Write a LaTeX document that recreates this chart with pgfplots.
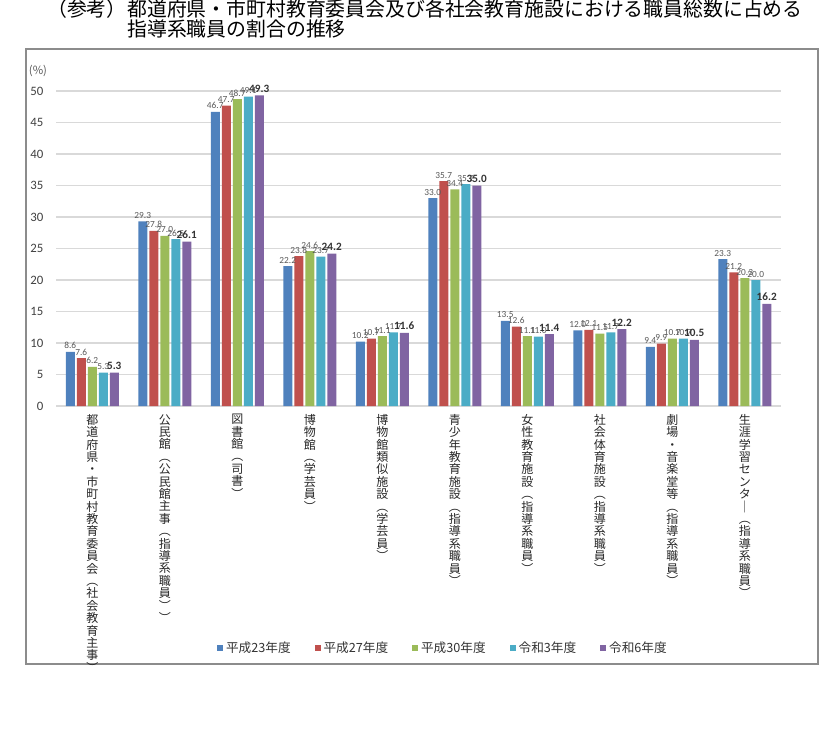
\documentclass[border=0pt]{standalone}
\usepackage{pgfplots}
\pgfplotsset{compat=1.18}
\usepackage{fontspec}
\setmainfont{Noto Sans CJK JP}
\newfontfamily\numfont{Carlito}

\definecolor{cA}{HTML}{4F81BD}
\definecolor{cB}{HTML}{C0504D}
\definecolor{cC}{HTML}{9BBB59}
\definecolor{cD}{HTML}{4BACC6}
\definecolor{cE}{HTML}{8064A2}
\definecolor{labgray}{HTML}{595959}
\definecolor{gridgray}{HTML}{D9D9D9}
\definecolor{framegray}{HTML}{8C8C8C}

\pgfplotsset{
  vals/.style={
    nodes near coords={\pgfmathprintnumber[fixed,fixed zerofill,precision=1]{\pgfplotspointmeta}},
    every node near coord/.append style={font=\numfont\fontsize{7}{8}\selectfont, text=labgray, inner sep=1pt, yshift=1pt}
  },
  valsbold/.style={
    nodes near coords={\pgfmathprintnumber[fixed,fixed zerofill,precision=1]{\pgfplotspointmeta}},
    every node near coord/.append style={font=\numfont\bfseries\fontsize{8.4}{9}\selectfont, text=black!80, inner sep=1pt, yshift=1pt}
  }
}

\begin{document}
\begin{tikzpicture}
\begin{scope}[x=0.75pt,y=-0.75pt]
  \useasboundingbox (0,0) rectangle (826,735);
  \draw[framegray, line width=1pt] (26,49) rectangle (818,664);
  \node[anchor=base east, inner sep=0, font=\fontsize{14.9}{15}\selectfont] at (127,17) {（参考）};
  \node[anchor=base west, inner sep=0, font=\fontsize{14.9}{15}\selectfont] at (127,17) {都道府県・市町村教育委員会及び各社会教育施設における職員総数に占める};
  \node[anchor=base west, inner sep=0, font=\fontsize{14.9}{15}\selectfont] at (127,37) {指導系職員の割合の推移};
  \node[font=\fontsize{8.5}{9}\selectfont, text=labgray] at (38,71) {(\%)};
\end{scope}
\begin{axis}[
  at={(42pt,-304.5pt)}, anchor=south west,
  scale only axis, width=543.75pt, height=236.25pt,
  xmin=-0.5, xmax=9.5, ymin=0, ymax=50,
  enlargelimits=false, clip=false,
  ybar=1.5pt, bar width=6.75pt,
  axis line style={draw=none}, major tick length=0pt,
  ytick={0,5,...,50}, ymajorgrids,
  major grid style={gridgray, line width=0.8pt},
  /pgf/number format/assume math mode=true,
  yticklabel style={font=\numfont\fontsize{9.6}{10}\selectfont, text=black!75, xshift=-6pt},
  xtick={0,...,9},
  xticklabels={
    {都\\道\\府\\県\\・\\市\\町\\村\\教\\育\\委\\員\\会\\︵\\社\\会\\教\\育\\主\\事\\︶},
    {公\\民\\館\\︵\\公\\民\\館\\主\\事\\︵\\指\\導\\系\\職\\員\\︶\\︶},
    {図\\書\\館\\︵\\司\\書\\︶},
    {博\\物\\館\\︵\\学\\芸\\員\\︶},
    {博\\物\\館\\類\\似\\施\\設\\︵\\学\\芸\\員\\︶},
    {青\\少\\年\\教\\育\\施\\設\\︵\\指\\導\\系\\職\\員\\︶},
    {女\\性\\教\\育\\施\\設\\︵\\指\\導\\系\\職\\員\\︶},
    {社\\会\\体\\育\\施\\設\\︵\\指\\導\\系\\職\\員\\︶},
    {劇\\場\\・\\音\\楽\\堂\\等\\︵\\指\\導\\系\\職\\員\\︶},
    {生\\涯\\学\\習\\セ\\ン\\タ\\｜\\︵\\指\\導\\系\\職\\員\\︶}
  },
  xticklabel style={anchor=north, align=center, font=\fontsize{9}{9.3}\selectfont, inner sep=0pt, yshift=-6pt, text=black!85},
  legend columns=5,
  legend style={at={(0.222,-0.768)}, anchor=west, draw=none, fill=none, inner sep=0pt,
    font=\fontsize{9.5}{10}\selectfont, text=black!80,
    /tikz/every even column/.append style={column sep=16pt}},
  every axis plot post/.append style={
    legend image code/.code={\fill[##1] (0pt,-2.3pt) rectangle (4.6pt,2.3pt);}},
]
\addplot[fill=cA, draw=none, vals] coordinates {(0,8.6) (1,29.3) (2,46.7) (3,22.2) (4,10.2) (5,33.0) (6,13.5) (7,12.0) (8,9.4) (9,23.3)};
\addplot[fill=cB, draw=none, vals] coordinates {(0,7.6) (1,27.8) (2,47.7) (3,23.8) (4,10.7) (5,35.7) (6,12.6) (7,12.1) (8,9.9) (9,21.2)};
\addplot[fill=cC, draw=none, vals] coordinates {(0,6.2) (1,27.0) (2,48.7) (3,24.6) (4,11.1) (5,34.4) (6,11.1) (7,11.5) (8,10.7) (9,20.3)};
\addplot[fill=cD, draw=none, vals] coordinates {(0,5.3) (1,26.5) (2,49.1) (3,23.7) (4,11.7) (5,35.2) (6,11.0) (7,11.7) (8,10.7) (9,20.0)};
\addplot[fill=cE, draw=none, valsbold] coordinates {(0,5.3) (1,26.1) (2,49.3) (3,24.2) (4,11.6) (5,35.0) (6,11.4) (7,12.2) (8,10.5) (9,16.2)};
\legend{平成23年度,平成27年度,平成30年度,令和3年度,令和6年度}
\end{axis}
\end{tikzpicture}
\end{document}
